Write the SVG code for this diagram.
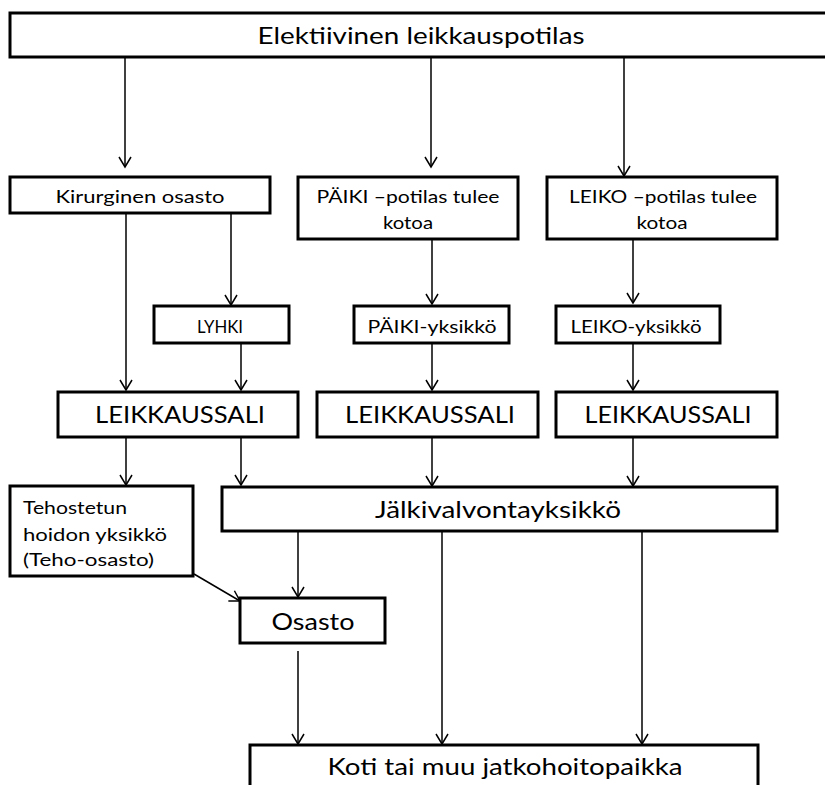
<svg xmlns="http://www.w3.org/2000/svg" width="825" height="785" viewBox="0 0 825 785">
<style>
.box{fill:#fff;stroke:#000;stroke-width:3}
.c{fill:none;stroke:#000;stroke-width:1.5}
text{font-family:Lato,"Noto Sans","Open Sans",sans-serif;fill:#000}
.l{font-size:23px}
.s{font-size:17px}
</style>
<defs>
<marker id="ah" markerUnits="userSpaceOnUse" markerWidth="16" markerHeight="16" refX="0" refY="0" viewBox="-12 -8 14 16" orient="auto">
<path d="M-10,-6 L0,0 L-10,6" fill="none" stroke="#000" stroke-width="1.5"/>
</marker>
</defs>
<g id="connectors">
<line class="c" x1="125" y1="57" x2="125" y2="167" marker-end="url(#ah)"/>
<line class="c" x1="431" y1="57" x2="431" y2="167" marker-end="url(#ah)"/>
<line class="c" x1="624" y1="57" x2="624" y2="176" marker-end="url(#ah)"/>
<line class="c" x1="126" y1="213" x2="126" y2="390" marker-end="url(#ah)"/>
<line class="c" x1="231" y1="213" x2="231" y2="305" marker-end="url(#ah)"/>
<line class="c" x1="241" y1="343" x2="241" y2="390" marker-end="url(#ah)"/>
<line class="c" x1="432" y1="239" x2="432" y2="304" marker-end="url(#ah)"/>
<line class="c" x1="432" y1="343" x2="432" y2="390" marker-end="url(#ah)"/>
<line class="c" x1="633" y1="239" x2="633" y2="303" marker-end="url(#ah)"/>
<line class="c" x1="633" y1="343" x2="633" y2="390" marker-end="url(#ah)"/>
<line class="c" x1="126" y1="437" x2="126" y2="485" marker-end="url(#ah)"/>
<line class="c" x1="241" y1="437" x2="241" y2="485" marker-end="url(#ah)"/>
<line class="c" x1="432" y1="437" x2="432" y2="486" marker-end="url(#ah)"/>
<line class="c" x1="633" y1="437" x2="633" y2="486" marker-end="url(#ah)"/>
<line class="c" x1="298" y1="531" x2="298" y2="597" marker-end="url(#ah)"/>
<line class="c" x1="194" y1="574" x2="240" y2="601" marker-end="url(#ah)"/>
<line class="c" x1="298" y1="651" x2="298" y2="744" marker-end="url(#ah)"/>
<line class="c" x1="442" y1="531" x2="442" y2="744" marker-end="url(#ah)"/>
<line class="c" x1="642" y1="531" x2="642" y2="744" marker-end="url(#ah)"/>
</g>
<g id="n-top">
<rect class="box" x="10" y="13" width="830" height="44"/>
<text class="l" x="421" y="44" text-anchor="middle" textLength="327" lengthAdjust="spacingAndGlyphs">Elektiivinen leikkauspotilas</text>
</g>
<g id="n-kirurginen">
<rect class="box" x="10" y="177" width="260" height="36"/>
<text class="s" x="140" y="203" text-anchor="middle" textLength="169" lengthAdjust="spacingAndGlyphs">Kirurginen osasto</text>
</g>
<g id="n-paiki">
<rect class="box" x="298" y="177" width="220" height="62"/>
<text class="s" x="408" y="203" text-anchor="middle" textLength="183" lengthAdjust="spacingAndGlyphs">PÄIKI –potilas tulee</text>
<text class="s" x="408" y="229" text-anchor="middle" textLength="50" lengthAdjust="spacingAndGlyphs">kotoa</text>
</g>
<g id="n-leiko">
<rect class="box" x="547" y="177" width="230" height="62"/>
<text class="s" x="663" y="203" text-anchor="middle" textLength="188" lengthAdjust="spacingAndGlyphs">LEIKO –potilas tulee</text>
<text class="s" x="662" y="229" text-anchor="middle" textLength="51" lengthAdjust="spacingAndGlyphs">kotoa</text>
</g>
<g id="n-lyhki">
<rect class="box" x="154" y="306" width="135" height="37"/>
<text class="s" x="220" y="333" text-anchor="middle" textLength="46" lengthAdjust="spacingAndGlyphs">LYHKI</text>
</g>
<g id="n-paiki-yksikko">
<rect class="box" x="354" y="306" width="155" height="37"/>
<text class="s" x="432" y="333" text-anchor="middle" textLength="129" lengthAdjust="spacingAndGlyphs">PÄIKI-yksikkö</text>
</g>
<g id="n-leiko-yksikko">
<rect class="box" x="556" y="306" width="164" height="37"/>
<text class="s" x="636" y="333" text-anchor="middle" textLength="131" lengthAdjust="spacingAndGlyphs">LEIKO-yksikkö</text>
</g>
<g id="n-sali1">
<rect class="box" x="58" y="392" width="240" height="45"/>
<text class="l" x="180" y="423" text-anchor="middle" textLength="170" lengthAdjust="spacingAndGlyphs">LEIKKAUSSALI</text>
</g>
<g id="n-sali2">
<rect class="box" x="317" y="392" width="221" height="45"/>
<text class="l" x="430" y="423" text-anchor="middle" textLength="170" lengthAdjust="spacingAndGlyphs">LEIKKAUSSALI</text>
</g>
<g id="n-sali3">
<rect class="box" x="556" y="392" width="221" height="45"/>
<text class="l" x="668" y="423" text-anchor="middle" textLength="167" lengthAdjust="spacingAndGlyphs">LEIKKAUSSALI</text>
</g>
<g id="n-teho">
<rect class="box" x="10" y="486" width="183" height="90"/>
<text class="s" x="23" y="514" textLength="104" lengthAdjust="spacingAndGlyphs">Tehostetun</text>
<text class="s" x="23" y="541" textLength="144" lengthAdjust="spacingAndGlyphs">hoidon yksikkö</text>
<text class="s" x="23" y="566" textLength="131" lengthAdjust="spacingAndGlyphs">(Teho-osasto)</text>
</g>
<g id="n-jalki">
<rect class="box" x="222" y="487" width="555" height="44"/>
<text class="l" x="498" y="518" text-anchor="middle" textLength="246" lengthAdjust="spacingAndGlyphs">Jälkivalvontayksikkö</text>
</g>
<g id="n-osasto">
<rect class="box" x="240" y="598" width="145" height="45"/>
<text class="l" x="313" y="630" text-anchor="middle" textLength="83" lengthAdjust="spacingAndGlyphs">Osasto</text>
</g>
<g id="n-koti">
<rect class="box" x="250" y="745" width="508" height="60"/>
<text class="l" x="505" y="775" text-anchor="middle" textLength="355" lengthAdjust="spacingAndGlyphs">Koti tai muu jatkohoitopaikka</text>
</g>
</svg>
